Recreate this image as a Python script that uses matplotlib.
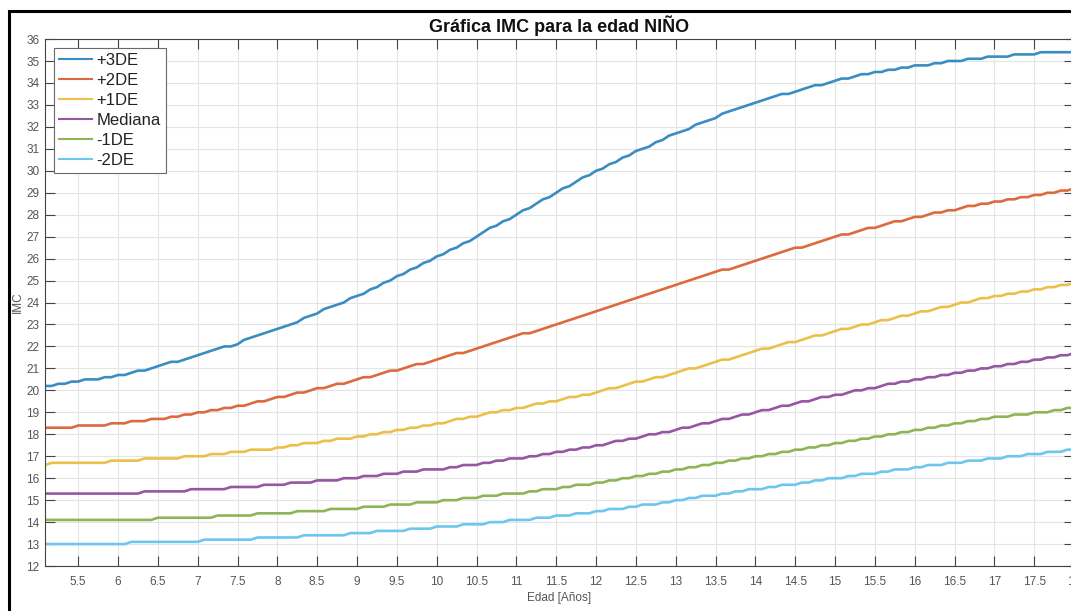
import numpy as np
import matplotlib
matplotlib.use("Agg")
import matplotlib.pyplot as plt
from matplotlib.patches import Rectangle

plt.rcParams['font.family'] = ['Liberation Sans', 'DejaVu Sans']

# Edad en meses: de 5 años 1 mes (61) a 18 años (216)
first_month = 61
last_month = 216

# IMC por edad (niños), un valor por mes; cada fila es un año
sd_p3 = [
    20.2, 20.2, 20.3, 20.3, 20.4, 20.4, 20.5, 20.5, 20.5, 20.6, 20.6, 20.7,
    20.7, 20.8, 20.9, 20.9, 21.0, 21.1, 21.2, 21.3, 21.3, 21.4, 21.5, 21.6,
    21.7, 21.8, 21.9, 22.0, 22.0, 22.1, 22.3, 22.4, 22.5, 22.6, 22.7, 22.8,
    22.9, 23.0, 23.1, 23.3, 23.4, 23.5, 23.7, 23.8, 23.9, 24.0, 24.2, 24.3,
    24.4, 24.6, 24.7, 24.9, 25.0, 25.2, 25.3, 25.5, 25.6, 25.8, 25.9, 26.1,
    26.2, 26.4, 26.5, 26.7, 26.8, 27.0, 27.2, 27.4, 27.5, 27.7, 27.8, 28.0,
    28.2, 28.3, 28.5, 28.7, 28.8, 29.0, 29.2, 29.3, 29.5, 29.7, 29.8, 30.0,
    30.1, 30.3, 30.4, 30.6, 30.7, 30.9, 31.0, 31.1, 31.3, 31.4, 31.6, 31.7,
    31.8, 31.9, 32.1, 32.2, 32.3, 32.4, 32.6, 32.7, 32.8, 32.9, 33.0, 33.1,
    33.2, 33.3, 33.4, 33.5, 33.5, 33.6, 33.7, 33.8, 33.9, 33.9, 34.0, 34.1,
    34.2, 34.2, 34.3, 34.4, 34.4, 34.5, 34.5, 34.6, 34.6, 34.7, 34.7, 34.8,
    34.8, 34.8, 34.9, 34.9, 35.0, 35.0, 35.0, 35.1, 35.1, 35.1, 35.2, 35.2,
    35.2, 35.2, 35.3, 35.3, 35.3, 35.3, 35.4, 35.4, 35.4, 35.4, 35.4, 35.4,
]
sd_p2 = [
    18.3, 18.3, 18.3, 18.3, 18.3, 18.4, 18.4, 18.4, 18.4, 18.4, 18.5, 18.5,
    18.5, 18.6, 18.6, 18.6, 18.7, 18.7, 18.7, 18.8, 18.8, 18.9, 18.9, 19.0,
    19.0, 19.1, 19.1, 19.2, 19.2, 19.3, 19.3, 19.4, 19.5, 19.5, 19.6, 19.7,
    19.7, 19.8, 19.9, 19.9, 20.0, 20.1, 20.1, 20.2, 20.3, 20.3, 20.4, 20.5,
    20.6, 20.6, 20.7, 20.8, 20.9, 20.9, 21.0, 21.1, 21.2, 21.2, 21.3, 21.4,
    21.5, 21.6, 21.7, 21.7, 21.8, 21.9, 22.0, 22.1, 22.2, 22.3, 22.4, 22.5,
    22.6, 22.6, 22.7, 22.8, 22.9, 23.0, 23.1, 23.2, 23.3, 23.4, 23.5, 23.6,
    23.7, 23.8, 23.9, 24.0, 24.1, 24.2, 24.3, 24.4, 24.5, 24.6, 24.7, 24.8,
    24.9, 25.0, 25.1, 25.2, 25.3, 25.4, 25.5, 25.5, 25.6, 25.7, 25.8, 25.9,
    26.0, 26.1, 26.2, 26.3, 26.4, 26.5, 26.5, 26.6, 26.7, 26.8, 26.9, 27.0,
    27.1, 27.1, 27.2, 27.3, 27.4, 27.4, 27.5, 27.6, 27.7, 27.7, 27.8, 27.9,
    27.9, 28.0, 28.1, 28.1, 28.2, 28.2, 28.3, 28.4, 28.4, 28.5, 28.5, 28.6,
    28.6, 28.7, 28.7, 28.8, 28.8, 28.9, 28.9, 29.0, 29.0, 29.1, 29.1, 29.2,
]
sd_p1 = [
    16.6, 16.7, 16.7, 16.7, 16.7, 16.7, 16.7, 16.7, 16.7, 16.7, 16.8, 16.8,
    16.8, 16.8, 16.8, 16.9, 16.9, 16.9, 16.9, 16.9, 16.9, 17.0, 17.0, 17.0,
    17.0, 17.1, 17.1, 17.1, 17.2, 17.2, 17.2, 17.3, 17.3, 17.3, 17.3, 17.4,
    17.4, 17.5, 17.5, 17.6, 17.6, 17.6, 17.7, 17.7, 17.8, 17.8, 17.8, 17.9,
    17.9, 18.0, 18.0, 18.1, 18.1, 18.2, 18.2, 18.3, 18.3, 18.4, 18.4, 18.5,
    18.5, 18.6, 18.7, 18.7, 18.8, 18.8, 18.9, 19.0, 19.0, 19.1, 19.1, 19.2,
    19.2, 19.3, 19.4, 19.4, 19.5, 19.5, 19.6, 19.7, 19.7, 19.8, 19.8, 19.9,
    20.0, 20.1, 20.1, 20.2, 20.3, 20.4, 20.4, 20.5, 20.6, 20.6, 20.7, 20.8,
    20.9, 21.0, 21.0, 21.1, 21.2, 21.3, 21.4, 21.4, 21.5, 21.6, 21.7, 21.8,
    21.9, 21.9, 22.0, 22.1, 22.2, 22.2, 22.3, 22.4, 22.5, 22.5, 22.6, 22.7,
    22.8, 22.8, 22.9, 23.0, 23.0, 23.1, 23.2, 23.2, 23.3, 23.4, 23.4, 23.5,
    23.6, 23.6, 23.7, 23.8, 23.8, 23.9, 24.0, 24.0, 24.1, 24.2, 24.2, 24.3,
    24.3, 24.4, 24.4, 24.5, 24.5, 24.6, 24.6, 24.7, 24.7, 24.8, 24.8, 24.9,
]
median = [
    15.3, 15.3, 15.3, 15.3, 15.3, 15.3, 15.3, 15.3, 15.3, 15.3, 15.3, 15.3,
    15.3, 15.3, 15.3, 15.4, 15.4, 15.4, 15.4, 15.4, 15.4, 15.4, 15.5, 15.5,
    15.5, 15.5, 15.5, 15.5, 15.6, 15.6, 15.6, 15.6, 15.6, 15.7, 15.7, 15.7,
    15.7, 15.8, 15.8, 15.8, 15.8, 15.9, 15.9, 15.9, 15.9, 16.0, 16.0, 16.0,
    16.1, 16.1, 16.1, 16.2, 16.2, 16.2, 16.3, 16.3, 16.3, 16.4, 16.4, 16.4,
    16.4, 16.5, 16.5, 16.6, 16.6, 16.6, 16.7, 16.7, 16.8, 16.8, 16.9, 16.9,
    16.9, 17.0, 17.0, 17.1, 17.1, 17.2, 17.2, 17.3, 17.3, 17.4, 17.4, 17.5,
    17.5, 17.6, 17.7, 17.7, 17.8, 17.8, 17.9, 18.0, 18.0, 18.1, 18.1, 18.2,
    18.3, 18.3, 18.4, 18.5, 18.5, 18.6, 18.7, 18.7, 18.8, 18.9, 18.9, 19.0,
    19.1, 19.1, 19.2, 19.3, 19.3, 19.4, 19.5, 19.5, 19.6, 19.7, 19.7, 19.8,
    19.8, 19.9, 20.0, 20.0, 20.1, 20.1, 20.2, 20.3, 20.3, 20.4, 20.4, 20.5,
    20.5, 20.6, 20.6, 20.7, 20.7, 20.8, 20.8, 20.9, 20.9, 21.0, 21.0, 21.1,
    21.1, 21.2, 21.2, 21.3, 21.3, 21.4, 21.4, 21.5, 21.5, 21.6, 21.6, 21.7,
]
sd_m1 = [
    14.1, 14.1, 14.1, 14.1, 14.1, 14.1, 14.1, 14.1, 14.1, 14.1, 14.1, 14.1,
    14.1, 14.1, 14.1, 14.1, 14.1, 14.2, 14.2, 14.2, 14.2, 14.2, 14.2, 14.2,
    14.2, 14.2, 14.3, 14.3, 14.3, 14.3, 14.3, 14.3, 14.4, 14.4, 14.4, 14.4,
    14.4, 14.4, 14.5, 14.5, 14.5, 14.5, 14.5, 14.6, 14.6, 14.6, 14.6, 14.6,
    14.7, 14.7, 14.7, 14.7, 14.8, 14.8, 14.8, 14.8, 14.9, 14.9, 14.9, 14.9,
    15.0, 15.0, 15.0, 15.1, 15.1, 15.1, 15.2, 15.2, 15.2, 15.3, 15.3, 15.3,
    15.3, 15.4, 15.4, 15.5, 15.5, 15.5, 15.6, 15.6, 15.7, 15.7, 15.7, 15.8,
    15.8, 15.9, 15.9, 16.0, 16.0, 16.1, 16.1, 16.2, 16.2, 16.3, 16.3, 16.4,
    16.4, 16.5, 16.5, 16.6, 16.6, 16.7, 16.7, 16.8, 16.8, 16.9, 16.9, 17.0,
    17.0, 17.1, 17.1, 17.2, 17.2, 17.3, 17.3, 17.4, 17.4, 17.5, 17.5, 17.6,
    17.6, 17.7, 17.7, 17.8, 17.8, 17.9, 17.9, 18.0, 18.0, 18.1, 18.1, 18.2,
    18.2, 18.3, 18.3, 18.4, 18.4, 18.5, 18.5, 18.6, 18.6, 18.7, 18.7, 18.8,
    18.8, 18.8, 18.9, 18.9, 18.9, 19.0, 19.0, 19.0, 19.1, 19.1, 19.2, 19.2,
]
sd_m2 = [
    13.0, 13.0, 13.0, 13.0, 13.0, 13.0, 13.0, 13.0, 13.0, 13.0, 13.0, 13.0,
    13.0, 13.1, 13.1, 13.1, 13.1, 13.1, 13.1, 13.1, 13.1, 13.1, 13.1, 13.1,
    13.2, 13.2, 13.2, 13.2, 13.2, 13.2, 13.2, 13.2, 13.3, 13.3, 13.3, 13.3,
    13.3, 13.3, 13.3, 13.4, 13.4, 13.4, 13.4, 13.4, 13.4, 13.4, 13.5, 13.5,
    13.5, 13.5, 13.6, 13.6, 13.6, 13.6, 13.6, 13.7, 13.7, 13.7, 13.7, 13.8,
    13.8, 13.8, 13.8, 13.9, 13.9, 13.9, 13.9, 14.0, 14.0, 14.0, 14.1, 14.1,
    14.1, 14.1, 14.2, 14.2, 14.2, 14.3, 14.3, 14.3, 14.4, 14.4, 14.4, 14.5,
    14.5, 14.6, 14.6, 14.6, 14.7, 14.7, 14.8, 14.8, 14.8, 14.9, 14.9, 15.0,
    15.0, 15.1, 15.1, 15.2, 15.2, 15.2, 15.3, 15.3, 15.4, 15.4, 15.5, 15.5,
    15.5, 15.6, 15.6, 15.7, 15.7, 15.7, 15.8, 15.8, 15.9, 15.9, 16.0, 16.0,
    16.0, 16.1, 16.1, 16.2, 16.2, 16.2, 16.3, 16.3, 16.4, 16.4, 16.4, 16.5,
    16.5, 16.6, 16.6, 16.6, 16.7, 16.7, 16.7, 16.8, 16.8, 16.8, 16.9, 16.9,
    16.9, 17.0, 17.0, 17.0, 17.1, 17.1, 17.1, 17.2, 17.2, 17.2, 17.3, 17.3,
]

series_labels = ['+3DE', '+2DE', '+1DE', 'Mediana', '-1DE', '-2DE']
series_colors = ['#3a8dc2', '#dd6a3c', '#ecbf4a', '#9556a3', '#8db555', '#6cc6ee']

x_ticks = [5.5, 6, 6.5, 7, 7.5, 8, 8.5, 9, 9.5, 10, 10.5, 11, 11.5, 12,
           12.5, 13, 13.5, 14, 14.5, 15, 15.5, 16, 16.5, 17, 17.5, 18]
y_ticks = list(range(12, 37))

age = np.arange(first_month, last_month + 1) / 12.0

fig = plt.figure(figsize=(10.71, 6.11), dpi=100)
ax = fig.add_axes([0.042, 0.0736, 0.9608, 0.8625])

for vals, lab, col in zip([sd_p3, sd_p2, sd_p1, median, sd_m1, sd_m2],
                          series_labels, series_colors):
    ax.plot(age, vals, color=col, lw=1.9, label=lab)

ax.set_xlim(first_month / 12.0, last_month / 12.0)
ax.set_ylim(12, 36)
ax.set_xticks(x_ticks)
ax.set_xticklabels(['%g' % t for t in x_ticks])
ax.set_yticks(y_ticks)
ax.grid(True, color='#e4e4e4', lw=0.8)
ax.set_axisbelow(True)

ax.tick_params(direction='in', length=7, width=0.8, colors='#444444',
               labelcolor='#555555', labelsize=8.5, top=True, right=True)
ax.tick_params(axis='x', pad=7)
ax.tick_params(axis='y', pad=4)
for sp in ax.spines.values():
    sp.set_color('#444444')
    sp.set_linewidth(0.8)

ax.set_title('Gráfica IMC para la edad NIÑO', fontsize=13, fontweight='bold',
             color='#111111', pad=5)
ax.set_xlabel('Edad [Años]', fontsize=8.5, color='#555555', labelpad=3)
ax.set_ylabel('IMC', fontsize=8.5, color='#555555', labelpad=2)

leg = ax.legend(loc='upper left', bbox_to_anchor=(0.0, 1.0),
                borderaxespad=0.55, fontsize=12, handlelength=2.0,
                handletextpad=0.25, labelspacing=0.3, borderpad=0.3,
                fancybox=False, framealpha=1, edgecolor='#6a6a6a')
leg.get_frame().set_linewidth(0.8)
for txt in leg.get_texts():
    txt.set_color('#222222')
for h in leg.get_lines():
    h.set_linewidth(1.5)

# marco negro alrededor de la figura
fig.add_artist(Rectangle((8.5 / 1071, -0.1), 1.2, 1 - 11 / 611 + 0.1,
                         transform=fig.transFigure, fill=False,
                         edgecolor='black', lw=2.2, clip_on=False))

fig.savefig('out.png', dpi=100)
